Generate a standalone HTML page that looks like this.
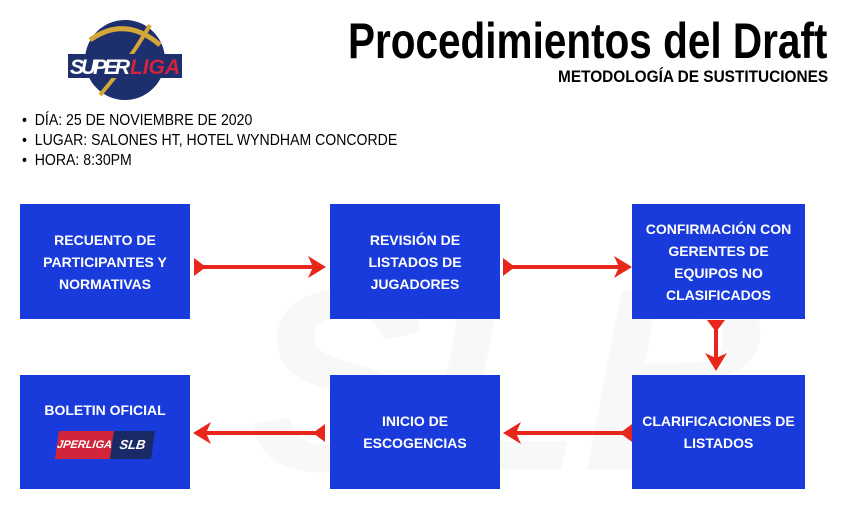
<!DOCTYPE html>
<html><head><meta charset="utf-8"><style>
body{margin:0;width:845px;height:519px;background:#fff;position:relative;overflow:hidden;font-family:"Liberation Sans",sans-serif}
.t{position:absolute;white-space:nowrap;transform-origin:0 0}
.box{position:absolute;background:#1a3bdb;color:#fff;font-weight:bold;font-size:14px;line-height:22px;text-align:center;display:flex;align-items:center;justify-content:center}
.box span{display:inline-block;transform:scaleX(1.0)}
</style></head><body>
<svg style="position:absolute;left:0;top:0" width="845" height="519">
<text x="250" y="470" font-size="260" font-weight="bold" fill="#f8f8f8" font-family="Liberation Sans" font-style="italic">SLB</text>
<circle cx="125" cy="60" r="40" fill="#1e2f6e"/>
<path d="M90 40 Q125 15 160 45" stroke="#d4a73a" stroke-width="5" fill="none"/>
<path d="M100 95 Q130 60 150 25" stroke="#d4a73a" stroke-width="4" fill="none"/>
<rect x="68" y="54" width="114" height="24" fill="#1e2f6e"/>
<text x="70" y="74" font-size="21" font-style="italic" font-weight="bold" fill="#fff" font-family="Liberation Sans" textLength="60">SUPER</text>
<text x="130" y="74" font-size="21" font-style="italic" font-weight="bold" fill="#d2243a" font-family="Liberation Sans" textLength="50">LIGA</text>
<g stroke="#e8261b" stroke-width="4" fill="#e8261b">
<line x1="196" y1="267" x2="316" y2="267"/><polygon points="194,258 206,267 194,276" stroke="none"/><polygon points="326,267 308,256 313,267 308,278" stroke="none"/>
<line x1="506" y1="267" x2="622" y2="267"/><polygon points="503,258 515,267 503,276" stroke="none"/><polygon points="632,267 614,256 619,267 614,278" stroke="none"/>
<line x1="716" y1="324" x2="716" y2="360"/><polygon points="707,320 725,320 716,332" stroke="none"/><polygon points="716,371 705,353 716,358 727,353" stroke="none"/>
<line x1="200" y1="433" x2="320" y2="433"/><polygon points="325,424 313,433 325,442" stroke="none"/><polygon points="193,433 211,422 206,433 211,444" stroke="none"/>
<line x1="510" y1="433" x2="624" y2="433"/><polygon points="632,424 620,433 632,442" stroke="none"/><polygon points="503,433 521,422 516,433 521,444" stroke="none"/>
</g>
</svg>
<div class="t" style="left:348px;top:12px;font-size:50px;font-weight:bold;transform:scaleX(0.81)">Procedimientos del Draft</div>
<div class="t" style="left:558px;top:67px;font-size:17px;font-weight:bold;transform:scaleX(0.905)">METODOLOGÍA DE SUSTITUCIONES</div>
<div class="t" style="left:22px;top:111px;font-size:16px;line-height:20px;transform:scaleX(0.88)">•&nbsp;&nbsp;DÍA: 25 DE NOVIEMBRE DE 2020<br>•&nbsp;&nbsp;LUGAR: SALONES HT, HOTEL WYNDHAM CONCORDE<br>•&nbsp;&nbsp;HORA: 8:30PM</div>
<div class="box" style="left:20px;top:204px;width:170px;height:115px"><span>RECUENTO DE<br>PARTICIPANTES Y<br>NORMATIVAS</span></div>
<div class="box" style="left:330px;top:204px;width:170px;height:115px"><span>REVISIÓN DE<br>LISTADOS DE<br>JUGADORES</span></div>
<div class="box" style="left:632px;top:204px;width:173px;height:115px"><span>CONFIRMACIÓN CON<br>GERENTES DE<br>EQUIPOS NO<br>CLASIFICADOS</span></div>
<div class="box" style="left:20px;top:375px;width:170px;height:114px;align-items:flex-start"><div style="margin-top:24px"><span>BOLETIN OFICIAL</span><div style="margin:10px auto 0;width:96px;height:28px;display:flex;transform:skewX(-8deg)"><div style="flex:1;background:#d2243a;color:#fff;font-size:11px;line-height:28px;font-style:italic">JPERLIGA</div><div style="flex:1;background:#1a2a66;color:#fff;font-size:13px;line-height:28px;font-style:italic">SLB</div></div></div></div>
<div class="box" style="left:330px;top:375px;width:170px;height:114px"><span>INICIO DE<br>ESCOGENCIAS</span></div>
<div class="box" style="left:632px;top:375px;width:173px;height:114px"><span>CLARIFICACIONES DE<br>LISTADOS</span></div>
</body></html>
